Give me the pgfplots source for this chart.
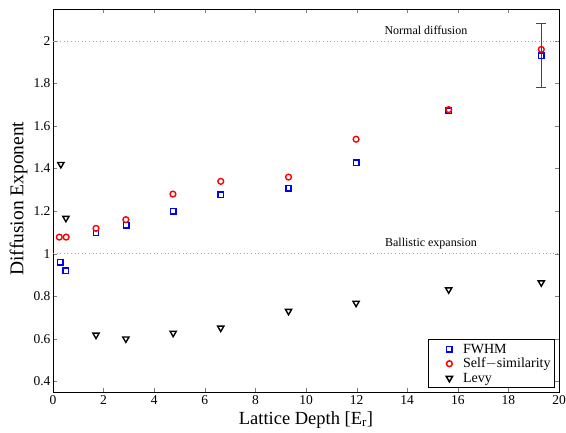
\documentclass[border=0pt]{standalone}
\usepackage{fontspec}
\setmainfont{Liberation Serif}
\usepackage{pgfplots}
\pgfplotsset{compat=1.18}
\definecolor{mblue}{RGB}{0,0,255}
\definecolor{ebblue}{RGB}{40,50,255}
\definecolor{mred}{RGB}{255,0,0}
\begin{document}
\begin{tikzpicture}
\begin{axis}[
  scale only axis, width=506pt, height=383pt,
  xmin=0, xmax=20, ymin=0.35, ymax=2.15,
  xtick={0,2,...,20}, ytick={0.4,0.6,...,2.01},
  tick align=inside, tick pos=both,
  major tick length=4pt,
  /pgf/number format/assume math mode=true,
  ticklabel style={font=\fontsize{13.5}{13.5}\selectfont},
  yticklabel style={/pgf/number format/fixed,/pgf/number format/precision=1, xshift=1pt},
  xlabel={Lattice Depth [E$_{\mathrm{r}}$]},
  ylabel={Diffusion Exponent},
  xlabel style={font=\fontsize{18.5}{18.5}\selectfont, at={(axis description cs:0.5,-0.073)}, anchor=center},
  ylabel style={font=\fontsize{19.5}{19.5}\selectfont, at={(axis description cs:-0.068,0.505)}, anchor=center},
  axis line style={line width=0.9pt},
  legend style={at={(0.992,0.0105)}, anchor=south east, font=\fontsize{14}{15}\selectfont, draw=black, line width=0.8pt, inner sep=2pt, row sep=-0.5pt, legend cell align=left},
  legend image code/.code={\path (0pt,-3pt) (29pt,3pt); \draw[#1, line width=1.5pt] plot coordinates {(18pt,0pt)};},
]
\addplot[gray!70, dash pattern=on 0.7pt off 2.9pt, line width=0.7pt, forget plot] coordinates {(0,2) (20,2)};
\addplot[gray!70, dash pattern=on 0.7pt off 2.9pt, line width=0.7pt, forget plot] coordinates {(0,1) (20,1)};
\node[font=\fontsize{12}{12}\selectfont] at (axis cs:14.74,2.048) {Normal diffusion};
\node[font=\fontsize{12}{12}\selectfont] at (axis cs:14.94,1.047) {Ballistic expansion};
\addplot[ebblue, line width=1.2pt, mark=-, mark size=5pt, mark options={ebblue, line width=1.2pt}, forget plot]
  coordinates {(19.3,1.78) (19.3,2.08)};
\addplot[only marks, mblue, mark=square, mark size=2.7pt, line width=1.5pt, mark options={draw=mblue}]
  coordinates {
  (0.29,0.96) (0.51,0.92) (1.70,1.097) (2.89,1.134) (4.75,1.20)
  (6.63,1.277) (9.31,1.307) (11.98,1.427) (15.64,1.672) (19.3,1.93)
};
\addlegendentry{FWHM}
\addplot[only marks, mred, mark=o, mark size=2.9pt, line width=1.4pt, mark options={draw=mred}]
  coordinates {
  (0.25,1.078) (0.52,1.078) (1.70,1.119) (2.88,1.16) (4.74,1.28)
  (6.63,1.34) (9.31,1.36) (11.98,1.538) (15.64,1.677) (19.3,1.96)
};
\addlegendentry{Self$-$similarity}
\addplot[only marks, black, mark=triangle, mark size=3.6pt, line width=1.4pt, mark options={rotate=180}]
  coordinates {
  (0.31,1.42) (0.51,1.167) (1.70,0.618) (2.88,0.60) (4.75,0.627)
  (6.63,0.651) (9.31,0.73) (11.98,0.768) (15.64,0.831) (19.3,0.864)
};
\addlegendentry{Levy}
\end{axis}
\pgfresetboundingbox
\path ([shift={(-53pt,-41pt)}]current axis.south west) rectangle ([shift={(7pt,9pt)}]current axis.north east);
\end{tikzpicture}
\end{document}
